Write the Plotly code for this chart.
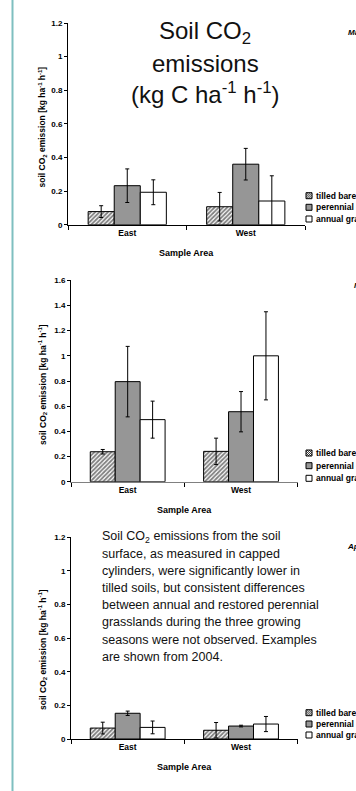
import plotly.graph_objects as go

W, H = 356, 791

# ---------------- data ----------------
areas = ["East", "West"]
series_names = ["tilled bare soil", "perennial grassland", "annual grassland"]
panel_dates = ["May 2004", "March 2004", "April 2004"]

# panel 1
p1_tilled = [0.078, 0.107]
p1_perennial = [0.232, 0.360]
p1_annual = [0.193, 0.141]
p1_tilled_err = [0.035, 0.085]
p1_perennial_err = [0.100, 0.094]
p1_annual_err = [0.074, 0.150]

# panel 2
p2_tilled = [0.238, 0.241]
p2_perennial = [0.795, 0.556]
p2_annual = [0.493, 1.000]
p2_tilled_err = [0.018, 0.105]
p2_perennial_err = [0.280, 0.160]
p2_annual_err = [0.147, 0.350]

# panel 3
p3_tilled = [0.065, 0.052]
p3_perennial = [0.153, 0.077]
p3_annual = [0.069, 0.089]
p3_tilled_err = [0.035, 0.046]
p3_perennial_err = [0.013, 0.005]
p3_annual_err = [0.038, 0.045]

y_ranges = [1.2, 1.6, 1.2]

title_lines = ["Soil CO<sub>2</sub>", "emissions", "(kg C ha<sup>-1</sup> h<sup>-1</sup>)"]
summary_lines = [
    "Soil CO<sub>2</sub> emissions from the soil",
    "surface, as measured in capped",
    "cylinders, were significantly lower in",
    "tilled soils, but consistent differences",
    "between annual and restored perennial",
    "grasslands during the three growing",
    "seasons were not observed. Examples",
    "are shown from 2004.",
]

panels = [
    ([p1_tilled, p1_perennial, p1_annual], [p1_tilled_err, p1_perennial_err, p1_annual_err]),
    ([p2_tilled, p2_perennial, p2_annual], [p2_tilled_err, p2_perennial_err, p2_annual_err]),
    ([p3_tilled, p3_perennial, p3_annual], [p3_tilled_err, p3_perennial_err, p3_annual_err]),
]

# ---------------- layout geometry (pixels) ----------------
def px(x):
    return x / W

def py(y):
    return 1 - y / H

geom = [  # x0, x1, ytop, ybottom
    (68, 305, 23, 224.7),
    (71, 297.7, 280.3, 481.7),
    (71, 297.7, 537.3, 739),
]
legend_y = [[195.7, 207.3, 219], [453, 465.7, 478.3], [712.7, 724, 735]]
date_pos = [(345.7, 33), (351.7, 285), (345, 546.7)]
ytitle_y = [127.5, 385, 650]

FONT = "Arial, Liberation Sans, sans-serif"
fills = ["white", "#969696", "white"]

fig = go.Figure()
for i, (vals, errs) in enumerate(panels):
    xa = "x" if i == 0 else f"x{i+1}"
    ya = "y" if i == 0 else f"y{i+1}"
    for s in range(3):
        pattern = dict(shape="/", fgcolor="black", bgcolor="white", size=3, solidity=0.6) if s == 0 else dict(shape="")
        fig.add_trace(go.Bar(
            x=areas, y=vals[s], name=series_names[s],
            xaxis=xa, yaxis=ya, showlegend=False,
            marker=dict(color=fills[s], line=dict(color="black", width=1), pattern=pattern),
            error_y=dict(type="data", array=errs[s], color="black", thickness=1, width=2),
        ))

layout = dict(
    width=W, height=H, margin=dict(l=0, r=0, t=0, b=0, autoexpand=False),
    paper_bgcolor="white", plot_bgcolor="white",
    barmode="group", bargap=0.34, bargroupgap=0,
    font=dict(family=FONT, color="black"),
)
shapes = []
annotations = []
for i, (x0, x1, yt, yb) in enumerate(geom):
    sfx = "" if i == 0 else str(i + 1)
    layout["xaxis" + sfx] = dict(
        domain=[px(x0), px(x1)], anchor="y" + sfx, type="category",
        showline=True, linecolor="#808080" if i == 1 else "black", linewidth=1,
        ticks="outside", tickson="boundaries", ticklen=4, tickcolor="black",
        tickfont=dict(size=8.5, weight="bold"), showgrid=False,
    )
    layout["yaxis" + sfx] = dict(
        domain=[py(yb), py(yt)], anchor="x" + sfx, range=[0, y_ranges[i]], dtick=0.2,
        showline=True, linecolor="black", linewidth=1, ticks="outside", ticklen=3,
        tickcolor="black", tickfont=dict(size=8, weight="bold"), showgrid=False, zeroline=False,
    )
    # x title
    annotations.append(dict(text="Sample Area", x=px((x0 + x1) / 2), y=py(yb + 28), xref="paper", yref="paper",
                            showarrow=False, font=dict(size=9, weight="bold"), xanchor="center", yanchor="middle"))
    # y title
    annotations.append(dict(text="soil CO<sub>2</sub> emission [kg ha<sup>-1</sup> h<sup>-1</sup>]",
                            x=px(42), y=py(ytitle_y[i]), xref="paper", yref="paper", textangle=-90,
                            showarrow=False, font=dict(size=8.5, weight="bold"), xanchor="center", yanchor="middle"))
    # date label (clipped at the right edge, as in the reference)
    annotations.append(dict(text="<i>" + panel_dates[i] + "</i>", x=px(date_pos[i][0]), y=py(date_pos[i][1]),
                            xref="paper", yref="paper", showarrow=False, xanchor="left", yanchor="middle",
                            font=dict(size=8, weight="bold")))
    # legend
    for s in range(3):
        cy = legend_y[i][s]
        sx0, sx1, sy0, sy1 = 306, 312, cy - 3, cy + 3
        shapes.append(dict(type="rect", xref="paper", yref="paper", x0=px(sx0), x1=px(sx1), y0=py(sy1), y1=py(sy0),
                           fillcolor=fills[s], line=dict(color="black", width=1)))
        if s == 0:
            segs = [((0, 2), (2, 0)), ((0, 4), (4, 0)), ((0, 6), (6, 0)), ((2, 6), (6, 2)), ((4, 6), (6, 4))]
            path = " ".join(f"M{px(sx0+a[0]):.5f},{py(sy0+a[1]):.5f} L{px(sx0+b[0]):.5f},{py(sy0+b[1]):.5f}" for a, b in segs)
            shapes.append(dict(type="path", xref="paper", yref="paper", path=path, line=dict(color="black", width=0.8)))
        annotations.append(dict(text=series_names[s], x=px(313.5), y=py(cy), xref="paper", yref="paper",
                                showarrow=False, xanchor="left", yanchor="middle", font=dict(size=8.5, weight="bold")))

# big title in panel 1
for k, line in enumerate(title_lines):
    annotations.append(dict(text=line, x=px(205), y=py(33 + 30 * k), xref="paper", yref="paper",
                            showarrow=False, xanchor="center", yanchor="middle", font=dict(size=24, color="#111111")))
# summary text in panel 3
for k, line in enumerate(summary_lines):
    annotations.append(dict(text=line, x=px(100), y=py(536.7 + 17.14 * k), xref="paper", yref="paper",
                            showarrow=False, xanchor="left", yanchor="middle", font=dict(size=12.5, color="#111111")))

# teal slide border
shapes.append(dict(type="line", xref="paper", yref="paper", x0=px(12.5), x1=px(12.5), y0=0, y1=1,
                   line=dict(color="#7fbfc0", width=2)))

layout["shapes"] = shapes
layout["annotations"] = annotations
fig.update_layout(**layout)

fig.write_html("out.html", config={"displayModeBar": False},
               post_script="document.body.style.margin='0';document.body.style.overflow='hidden';")
